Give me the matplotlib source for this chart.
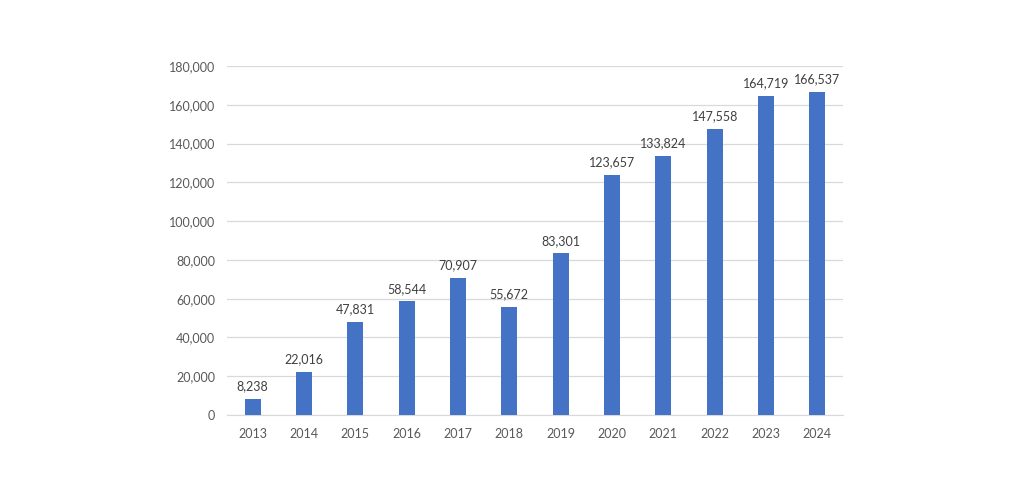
import matplotlib
matplotlib.use("Agg")
import matplotlib.pyplot as plt
from matplotlib.ticker import FuncFormatter

years = ["2013", "2014", "2015", "2016", "2017", "2018", "2019", "2020", "2021", "2022", "2023", "2024"]
values = [8238, 22016, 47831, 58544, 70907, 55672, 83301, 123657, 133824, 147558, 164719, 166537]

plt.rcParams['font.family'] = ['Lato', 'DejaVu Sans']

fig = plt.figure(figsize=(10.24, 4.94), dpi=100)
ax = fig.add_axes([227/1024, 1-415/494, 616/1024, (415-66)/494])

x = list(range(len(years)))
ax.bar(x, values, width=0.31, color="#4472C4", zorder=3)
for xi, v in zip(x, values):
    ax.text(xi, v + 3500, f"{v:,}", ha="center", va="bottom", fontsize=9, color="#404040")

ax.set_xlim(-0.5, len(years) - 0.5)
ax.set_ylim(0, 180000)
ax.set_yticks(range(0, 180001, 20000))
ax.yaxis.set_major_formatter(FuncFormatter(lambda v, p: f"{int(v):,}"))
ax.set_xticks(x)
ax.set_xticklabels(years)
ax.grid(axis="y", color="#D9D9D9", linewidth=0.9, zorder=0)
for s in ["top", "right", "left"]:
    ax.spines[s].set_visible(False)
ax.spines["bottom"].set_color("#D9D9D9")
ax.tick_params(axis="both", length=0, labelsize=9, colors="#595959")
ax.tick_params(axis="y", pad=8.5)
ax.tick_params(axis="x", pad=9)

fig.savefig("out.png", dpi=100)
